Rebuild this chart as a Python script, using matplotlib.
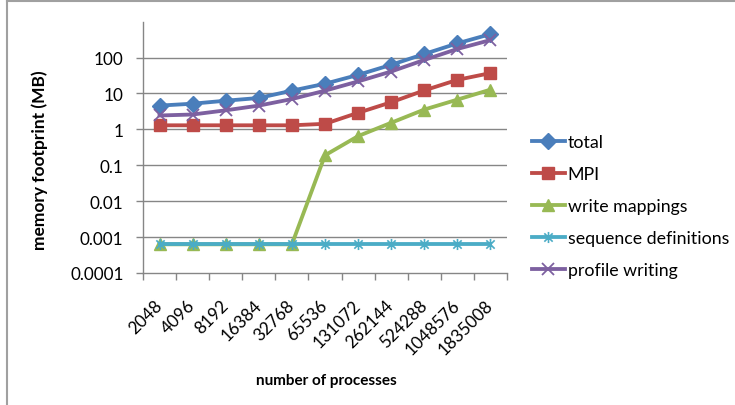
import matplotlib
matplotlib.use("Agg")
import matplotlib.pyplot as plt
from matplotlib.path import Path
from matplotlib.lines import Line2D

# ---------------- data ----------------
processes = ["2048", "4096", "8192", "16384", "32768", "65536", "131072",
             "262144", "524288", "1048576", "1835008"]
total = [4.6, 5.2, 6.3, 7.5, 12, 18.7, 33, 63, 126, 249, 451]
mpi = [1.3, 1.3, 1.3, 1.3, 1.3, 1.43, 2.9, 5.7, 12.2, 24, 37]
write_mappings = [0.00063, 0.00063, 0.00063, 0.00063, 0.00063, 0.19, 0.65, 1.53, 3.57, 6.75, 12.8]
sequence_definitions = [0.00063] * 11
profile_writing = [2.44, 2.6, 3.4, 4.6, 7.0, 12, 21.7, 41, 86, 174, 308]
series_names = ["total", "MPI", "write mappings", "sequence definitions", "profile writing"]
ytick_values = [0.0001, 0.001, 0.01, 0.1, 1, 10, 100]
ytick_labels = ["0.0001", "0.001", "0.01", "0.1", "1", "10", "100"]
ylabel = "memory footprint (MB)"
xlabel = "number of processes"

# ---------------- style ----------------
plt.rcParams['font.family'] = ['Lato', 'DejaVu Sans']
GRAY = "#868686"
colors = ["#4A7EBB", "#BE4B48", "#98B954", "#4BACC6", "#7D60A0"]

star = Path([(0, -1), (0, 1), (-0.75, -0.75), (0.75, 0.75), (-0.75, 0.75), (0.75, -0.75)],
            [Path.MOVETO, Path.LINETO, Path.MOVETO, Path.LINETO, Path.MOVETO, Path.LINETO])

fig = plt.figure(figsize=(7.35, 4.06), dpi=100)
ax = fig.add_axes([143 / 735, 1 - 274 / 406, 364 / 735, (274 - 22.7) / 406])

x = list(range(len(processes)))
data = [total, mpi, write_mappings, sequence_definitions, profile_writing]
styles = [
    dict(marker="D", ms=8, mec=colors[0], mfc=colors[0]),
    dict(marker="s", ms=8.5, mec=colors[1], mfc=colors[1]),
    dict(marker="^", ms=9, mec=colors[2], mfc=colors[2]),
    dict(marker=star, ms=8, mec=colors[3], mfc="none", mew=1.2),
    dict(marker="x", ms=8, mec=colors[4], mew=1.3),
]
for vals, name, c, st in zip(data, series_names, colors, styles):
    ax.plot(x, vals, color=c, lw=2.75, label=name, clip_on=False, **st)

ax.set_yscale("log")
ax.set_ylim(1e-4, 1e3)
ax.set_xlim(-0.5, len(processes) - 0.5)

ax.set_yticks(ytick_values)
ax.set_yticklabels(ytick_labels)
ax.yaxis.set_minor_locator(matplotlib.ticker.NullLocator())
for v in ytick_values[1:]:
    ax.axhline(v, color=GRAY, lw=1, zorder=0)

ax.set_xticks(x)
ax.set_xticklabels(processes, rotation=45, ha="right", va="center", rotation_mode="anchor")
ax.set_xticks([i - 0.5 for i in range(len(processes) + 1)], minor=True)
ax.tick_params(axis="x", which="major", length=0, pad=21, labelsize=12.3, colors="black")
ax.tick_params(axis="x", which="minor", length=5, color=GRAY, width=1)
ax.tick_params(axis="y", which="major", length=5, color=GRAY, width=1, pad=9, labelsize=12.3)

for s in ["top", "right"]:
    ax.spines[s].set_visible(False)
for s in ["left", "bottom"]:
    ax.spines[s].set_color(GRAY)
    ax.spines[s].set_linewidth(1)

fig.text(40 / 735, 1 - 160 / 406, ylabel, rotation=90, ha="center", va="center",
         fontsize=12.5, fontweight="bold")
fig.text(326 / 735, 1 - 381 / 406, xlabel, ha="center", va="center",
         fontsize=11, fontweight="bold")

leg = ax.legend(loc="center left", bbox_to_anchor=(532 / 735, 1 - 207 / 406),
                bbox_transform=fig.transFigure, frameon=False, fontsize=12.8,
                handlelength=1.85, handletextpad=0.15, labelspacing=0.9,
                borderpad=0, borderaxespad=0)

# figure border (top and left visible)
fig.add_artist(Line2D([7 / 735, 7 / 735], [0, 1 - 2 / 406], color="#A0A0A0", lw=1.5,
                      transform=fig.transFigure))
fig.add_artist(Line2D([7 / 735, 1], [1 - 2 / 406, 1 - 2 / 406], color="#A0A0A0", lw=1.5,
                      transform=fig.transFigure))

fig.savefig("out.png", dpi=100)
